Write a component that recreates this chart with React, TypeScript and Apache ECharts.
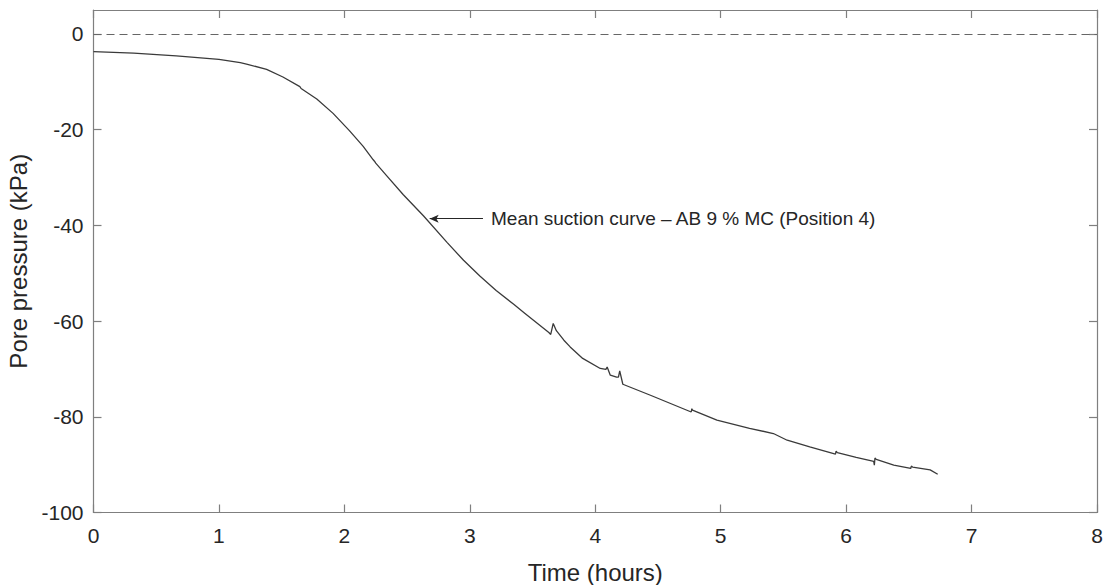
import React, { useEffect, useRef } from "react";
import * as echarts from "echarts";

// Time (hours)
const timeHours = [
  0, 0.32, 0.66, 1.0, 1.17, 1.22, 1.38, 1.51, 1.645, 1.655, 1.78, 1.91, 2.04, 2.15, 2.23,
  2.24, 2.25, 2.34, 2.47, 2.63, 2.82, 2.95, 3.08, 3.21, 3.35, 3.44, 3.63, 3.645, 3.665,
  3.69, 3.75, 3.8, 3.9, 4.04, 4.085, 4.095, 4.12, 4.17, 4.185, 4.195, 4.22, 4.44, 4.765,
  4.77, 4.775, 4.97, 5.23, 5.42, 5.53, 5.71, 5.915, 5.92, 5.93, 6.08, 6.22, 6.225, 6.23,
  6.24, 6.38, 6.515, 6.52, 6.53, 6.67, 6.73,
];
// Pore pressure (kPa)
const porePressure = [
  -3.7, -4.0, -4.6, -5.3, -6.0, -6.3, -7.4, -9.0, -11.0, -11.4, -13.6, -16.6, -20.2, -23.5,
  -26.3, -26.6, -27.0, -29.7, -33.6, -38.0, -43.6, -47.3, -50.6, -53.6, -56.5, -58.4, -62.4,
  -62.8, -60.5, -62.0, -64.0, -65.4, -67.8, -69.9, -70.1, -69.6, -71.3, -71.7, -71.7, -70.4,
  -73.2, -75.5, -79.0, -78.3, -78.6, -80.7, -82.4, -83.5, -84.9, -86.3, -87.8, -87.2, -87.5,
  -88.5, -89.3, -90.1, -88.6, -88.9, -90.1, -90.8, -90.3, -90.5, -91.1, -92.0,
];

const xTicks = [0, 1, 2, 3, 4, 5, 6, 7, 8];
const yTicks = [-100, -80, -60, -40, -20, 0];

const annotationText = "Mean suction curve \u2013 AB 9 % MC (Position 4)";
const annotationTip = [2.68, -38.6];
const annotationTail = [3.105, -38.6];

const FONT = "Arial, 'Liberation Sans', Helvetica, sans-serif";
const AXIS_COLOR = "#7f7f7f";
const TEXT_COLOR = "#262626";

export default function App() {
  const ref = useRef<HTMLDivElement>(null);

  useEffect(() => {
    if (!ref.current) return;
    const chart = echarts.init(ref.current, undefined, { renderer: "svg" });
    const data = timeHours.map((t, i) => [t, porePressure[i]]);
    const axisLine = { show: true, onZero: false, lineStyle: { color: AXIS_COLOR, width: 1.2 } };
    const tick = { show: true, inside: true, length: 8, lineStyle: { color: AXIS_COLOR, width: 1.2 } };

    chart.setOption({
      animation: false,
      backgroundColor: "#ffffff",
      textStyle: { fontFamily: FONT },
      grid: {
        left: 93.5,
        top: 10,
        width: 1003.5,
        height: 502.5,
        containLabel: false,
        outerBoundsMode: "none",
      },
      xAxis: [
        {
          type: "value",
          min: 0,
          max: 8,
          interval: 1,
          position: "bottom",
          axisLine,
          axisTick: { ...tick, customValues: xTicks },
          axisLabel: { customValues: xTicks, color: TEXT_COLOR, fontSize: 21, margin: 12, fontFamily: FONT },
          splitLine: { show: false },
          name: "Time (hours)",
          nameLocation: "middle",
          nameGap: 48,
          nameTextStyle: { fontSize: 24, color: TEXT_COLOR, fontFamily: FONT },
        },
        {
          type: "value",
          min: 0,
          max: 8,
          interval: 1,
          position: "top",
          axisLine,
          axisTick: { ...tick, customValues: xTicks },
          axisLabel: { show: false },
          splitLine: { show: false },
        },
      ],
      yAxis: [
        {
          type: "value",
          min: -100,
          max: 5,
          interval: 20,
          position: "left",
          axisLine,
          axisTick: { ...tick, customValues: yTicks },
          axisLabel: { customValues: yTicks, color: TEXT_COLOR, fontSize: 21, margin: 10, fontFamily: FONT },
          splitLine: { show: false },
          name: "Pore pressure (kPa)",
          nameLocation: "middle",
          nameGap: 51,
          nameTextStyle: { fontSize: 24, color: TEXT_COLOR, fontFamily: FONT },
        },
        {
          type: "value",
          min: -100,
          max: 5,
          interval: 20,
          position: "right",
          axisLine,
          axisTick: { ...tick, customValues: yTicks },
          axisLabel: { show: false },
          splitLine: { show: false },
        },
      ],
      series: [
        {
          type: "line",
          data,
          xAxisIndex: 0,
          yAxisIndex: 0,
          showSymbol: false,
          symbol: "none",
          smooth: false,
          lineStyle: { color: "#3a3a3a", width: 1.3 },
          markLine: {
            silent: true,
            animation: false,
            symbol: ["none", "none"],
            data: [
              {
                yAxis: 0,
                lineStyle: { type: [8, 5], color: "#666666", width: 1.2 },
                label: { show: false },
              },
              [
                {
                  coord: annotationTip,
                  symbol: "arrow",
                  symbolSize: [6, 9],
                  lineStyle: { type: "solid", color: "#262626", width: 1 },
                  label: {
                    show: true,
                    position: "end",
                    distance: 8,
                    formatter: annotationText,
                    color: TEXT_COLOR,
                    fontSize: 19,
                    fontFamily: FONT,
                  },
                },
                { coord: annotationTail, symbol: "none" },
              ],
            ],
          },
        },
      ],
    });
    return () => chart.dispose();
  }, []);

  return (
    <div
      ref={ref}
      style={{ position: "fixed", left: 0, top: 0, width: 1105, height: 585, background: "#fff" }}
    />
  );
}
